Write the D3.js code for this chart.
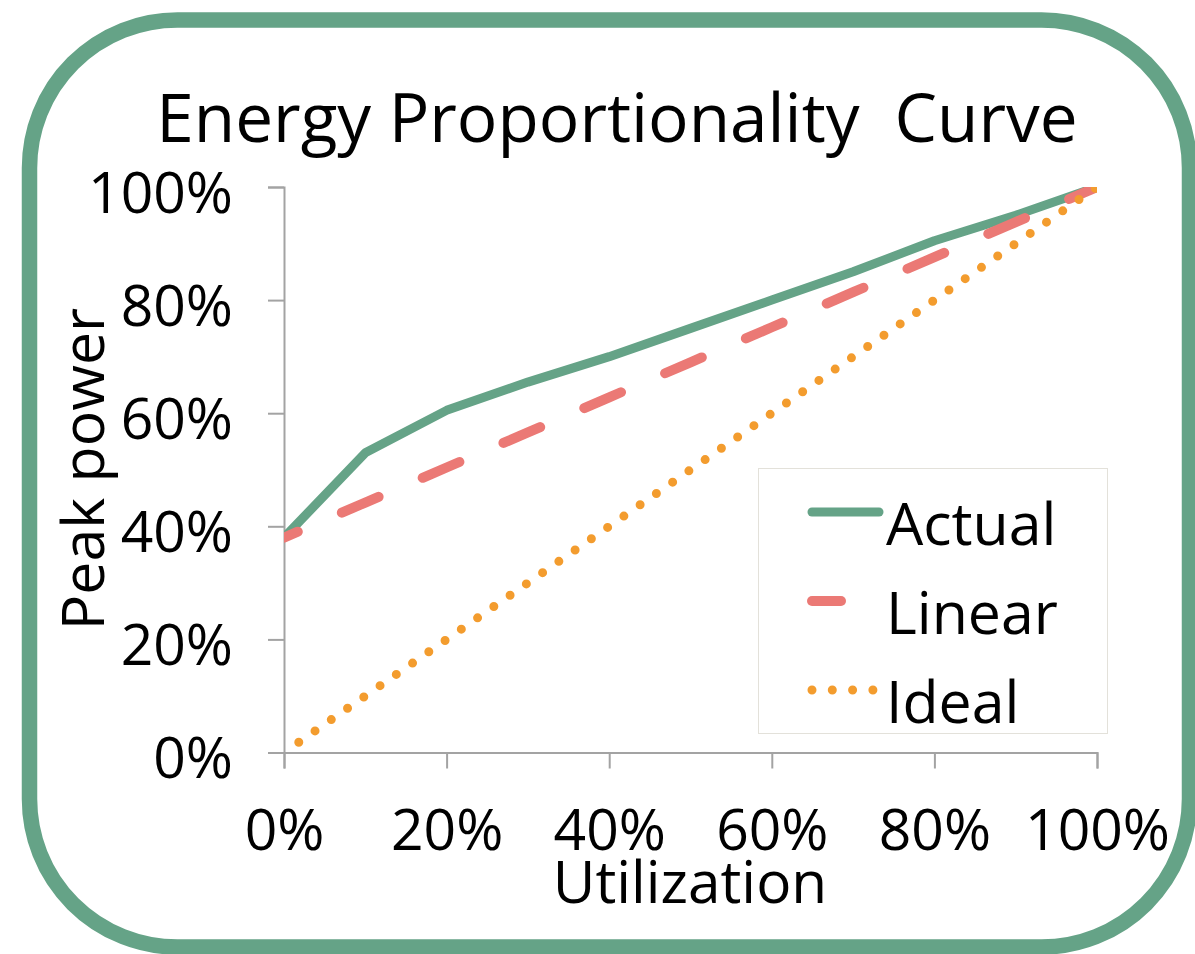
<!DOCTYPE html>
<html>
<head>
<meta charset="utf-8">
<script src="https://cdn.jsdelivr.net/npm/d3@7"></script>
<style>
  html, body { margin: 0; padding: 0; background: #ffffff; }
  svg { display: block; font-family: "Open Sans", "Noto Sans", sans-serif; }
  text { white-space: pre; fill: #000; }
</style>
</head>
<body>
<svg id="chart" width="1195" height="954"></svg>
<script>
// Utilization levels (fraction of peak load)
const utilization = [0, 0.1, 0.2, 0.3, 0.4, 0.5, 0.6, 0.7, 0.8, 0.9, 1.0];
// Measured power draw, fraction of peak power
const actual = [0.38, 0.53, 0.605, 0.655, 0.70, 0.75, 0.80, 0.85, 0.905, 0.95, 1.0];
// Straight line from idle power to peak power
const linear = [0.38, 0.442, 0.504, 0.566, 0.628, 0.69, 0.752, 0.814, 0.876, 0.938, 1.0];
// Perfectly energy-proportional server
const ideal = [0, 0.1, 0.2, 0.3, 0.4, 0.5, 0.6, 0.7, 0.8, 0.9, 1.0];

const xTicks = [0, 0.2, 0.4, 0.6, 0.8, 1.0];
const yTicks = [0, 0.2, 0.4, 0.6, 0.8, 1.0];

const seriesNames = ["Actual", "Linear", "Ideal"];
const seriesValues = [actual, linear, ideal];

const titleText = "Energy Proportionality  Curve";
const xTitle = "Utilization";
const yTitle = "Peak power";

const colors = { Actual: "#65a387", Linear: "#eb7975", Ideal: "#f39c2e" };

const svg = d3.select("#chart");

// Rounded frame around the whole chart
svg.append("rect")
  .attr("x", 29.5).attr("y", 20)
  .attr("width", 1160).attr("height", 927)
  .attr("rx", 148).attr("ry", 148)
  .attr("fill", "#fff")
  .attr("stroke", "#65a387")
  .attr("stroke-width", 15.5);

const plot = { left: 284, right: 1097, top: 187, bottom: 752.5 };

const x = d3.scaleLinear().domain([0, 1]).range([plot.left, plot.right]);
const y = d3.scaleLinear().domain([0, 1]).range([plot.bottom, plot.top]);

const fmt = d3.format(".0%");

// Title
svg.append("text")
  .attr("x", 617).attr("y", 142)
  .attr("text-anchor", "middle")
  .attr("font-size", 67.5)
  .text(titleText);

// Axes
const axisColor = "#a3a3a3";

const yAxis = svg.append("g")
  .attr("transform", `translate(${plot.left},0)`)
  .call(d3.axisLeft(y).tickValues(yTicks).tickFormat(fmt).tickSize(16).tickPadding(35));

const xAxis = svg.append("g")
  .attr("transform", `translate(0,${plot.bottom})`)
  .call(d3.axisBottom(x).tickValues(xTicks).tickFormat(fmt).tickSize(16));

[yAxis, xAxis].forEach(g => {
  g.select(".domain").attr("stroke", axisColor).attr("stroke-width", 2);
  g.selectAll(".tick line").attr("stroke", axisColor).attr("stroke-width", 2);
  g.selectAll(".tick text")
    .attr("fill", "#000")
    .attr("font-size", 57)
    .attr("font-family", "\"Open Sans\", sans-serif");
});
yAxis.selectAll(".tick text").attr("dy", 25);
xAxis.selectAll(".tick text").attr("y", 97).attr("dy", 0);

// Axis titles
svg.append("text")
  .attr("x", 690).attr("y", 903)
  .attr("text-anchor", "middle")
  .attr("font-size", 58.5)
  .text(xTitle);

svg.append("text")
  .attr("transform", "translate(104,469) rotate(-90)")
  .attr("text-anchor", "middle")
  .attr("font-size", 59)
  .text(yTitle);

// Plot-area clip so line ends are trimmed at the axes
svg.append("clipPath").attr("id", "plot-clip")
  .append("rect")
  .attr("x", plot.left).attr("y", plot.top)
  .attr("width", plot.right - plot.left)
  .attr("height", plot.bottom - plot.top);

const line = d3.line()
  .x((d, i) => x(utilization[i]))
  .y(d => y(d));

const styles = {
  Actual: { width: 9, dash: null, offset: 0, cap: "butt" },
  Linear: { width: 10, dash: "40 48", offset: 25, cap: "round" },
  Ideal: { width: 9, dash: "0 19.8", offset: 1.8, cap: "round" }
};

const series = svg.append("g").attr("clip-path", "url(#plot-clip)");
seriesNames.forEach((name, k) => {
  const s = styles[name];
  series.append("path")
    .datum(seriesValues[k])
    .attr("d", line)
    .attr("fill", "none")
    .attr("stroke", colors[name])
    .attr("stroke-width", s.width)
    .attr("stroke-linejoin", "round")
    .attr("stroke-linecap", s.cap)
    .attr("stroke-dasharray", s.dash)
    .attr("stroke-dashoffset", s.offset);
});

// Legend
const legend = svg.append("g");
legend.append("rect")
  .attr("x", 758.5).attr("y", 468.5)
  .attr("width", 349).attr("height", 265)
  .attr("fill", "#fff")
  .attr("stroke", "#e3e1da")
  .attr("stroke-width", 1);

const legendRows = [512, 601, 690];
const legendSamples = {
  Actual: { x2: 879, dash: null, cap: "round" },
  Linear: { x2: 841, dash: null, cap: "round" },
  Ideal: { x2: 873, dash: "0 20.3", cap: "round" }
};
seriesNames.forEach((name, k) => {
  const s = styles[name];
  const l = legendSamples[name];
  legend.append("line")
    .attr("x1", 812).attr("x2", l.x2)
    .attr("y1", legendRows[k]).attr("y2", legendRows[k])
    .attr("stroke", colors[name])
    .attr("stroke-width", s.width)
    .attr("stroke-linecap", l.cap)
    .attr("stroke-dasharray", l.dash);
  legend.append("text")
    .attr("x", 886).attr("y", legendRows[k] + 33)
    .attr("font-size", 59)
    .text(name);
});
</script>
</body>
</html>
